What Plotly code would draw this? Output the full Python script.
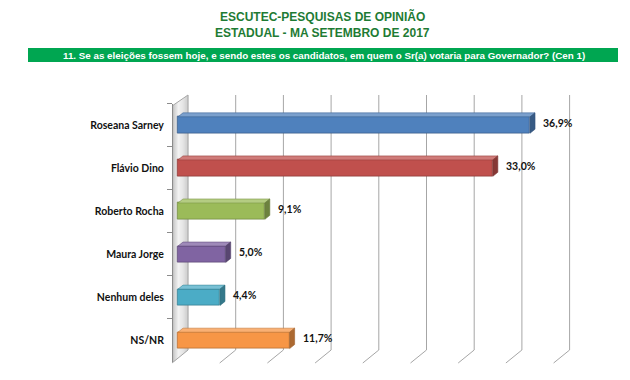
import plotly.graph_objects as go

# ---------------- data ----------------
categories = ["Roseana Sarney", "Flávio Dino", "Roberto Rocha", "Maura Jorge", "Nenhum deles", "NS/NR"]
values = [36.9, 33.0, 9.1, 5.0, 4.4, 11.7]
value_labels = ["36,9%", "33,0%", "9,1%", "5,0%", "4,4%", "11,7%"]
grid_ticks = [0, 5, 10, 15, 20, 25, 30, 35, 40]
bar_colors = ["#4F81BD", "#C0504D", "#9BBB59", "#8064A2", "#4BACC6", "#F79646"]
title_lines = ["ESCUTEC-PESQUISAS DE OPINIÃO", "ESTADUAL - MA SETEMBRO DE 2017"]
question = "11. Se as eleições fossem hoje, e sendo estes os candidatos, em quem o Sr(a) votaria para Governador? (Cen 1)"

# ---------------- layout constants (pixels) ----------------
W, H = 630, 380
X0_PX = 178.0          # pixel of value 0 on the front plane
PX_PER_UNIT = 9.54
X_MIN, X_MAX = -1.5, 42
Y_TOP_PX, Y_BOT_PX = 103.5, 361.9
ROW_PX = (Y_BOT_PX - Y_TOP_PX) / len(categories)
BAR_W = 0.38
DEPTH_DX, DEPTH_DY = 5, 4      # bar 3D depth in px
WALL_FRONT_DX, WALL_BACK_DX = -6, 10   # relative to value 0
FRONT_TOP, FRONT_BOT = 106, 363
BACK_TOP, BACK_BOT = 95, 350


def py(p):
    return 1 - p / H


def shade(hexc, f):
    r, g, b = int(hexc[1:3], 16), int(hexc[3:5], 16), int(hexc[5:7], 16)
    if f >= 0:
        r, g, b = [int(c + (255 - c) * f) for c in (r, g, b)]
    else:
        r, g, b = [int(c * (1 + f)) for c in (r, g, b)]
    return "#%02x%02x%02x" % (r, g, b)


fig = go.Figure()
fig.add_trace(go.Bar(
    orientation="h", x=values, y=categories, width=BAR_W,
    marker=dict(color=bar_colors, line=dict(color=[shade(c, -0.25) for c in bar_colors], width=0.8)),
    hoverinfo="skip",
))

shapes = []
# side wall (gradient strips)
n = 14
wall_cols = []
for i in range(n):
    t = (i + 0.5) / n
    if t < 0.4:
        g = int(175 + (245 - 175) * (t / 0.4))
    else:
        g = int(245 - (245 - 205) * ((t - 0.4) / 0.6))
    wall_cols.append("#%02x%02x%02x" % (g, g, g))
for i in range(n):
    t0, t1 = i / n, (i + 1) / n
    xa = WALL_FRONT_DX + (WALL_BACK_DX - WALL_FRONT_DX) * t0
    xb = WALL_FRONT_DX + (WALL_BACK_DX - WALL_FRONT_DX) * t1
    ta = FRONT_TOP + (BACK_TOP - FRONT_TOP) * t0
    tb = FRONT_TOP + (BACK_TOP - FRONT_TOP) * t1
    ba = FRONT_BOT + (BACK_BOT - FRONT_BOT) * t0
    bb = FRONT_BOT + (BACK_BOT - FRONT_BOT) * t1
    path = f"M{xa},{py(ba)} L{xa},{py(ta)} L{xb + 0.3},{py(tb)} L{xb + 0.3},{py(bb)} Z"
    shapes.append(dict(type="path", xref="x", yref="paper", xsizemode="pixel", xanchor=0,
                       path=path, fillcolor=wall_cols[i], line=dict(width=0), layer="below"))
# wall top edge
shapes.append(dict(type="line", xref="x", yref="paper", xsizemode="pixel", xanchor=0,
                   x0=WALL_FRONT_DX, x1=WALL_BACK_DX, y0=py(FRONT_TOP), y1=py(BACK_TOP),
                   line=dict(color="#a6a6a6", width=1), layer="below"))

# grid lines on back plane + floor diagonals
for v in grid_ticks:
    shapes.append(dict(type="line", xref="x", yref="paper", xsizemode="pixel", xanchor=v,
                       x0=WALL_BACK_DX, x1=WALL_BACK_DX, y0=py(BACK_BOT), y1=py(BACK_TOP),
                       line=dict(color="#a6a6a6", width=1), layer="below"))
    shapes.append(dict(type="line", xref="x", yref="paper", xsizemode="pixel", xanchor=v,
                       x0=WALL_BACK_DX, x1=WALL_FRONT_DX, y0=py(BACK_BOT), y1=py(FRONT_BOT),
                       line=dict(color="#a6a6a6", width=1), layer="below"))

# 3D faces of bars
dxu = DEPTH_DX / PX_PER_UNIT
dyu = DEPTH_DY / ROW_PX
for i, (v, c) in enumerate(zip(values, bar_colors)):
    top = i - BAR_W / 2
    bot = i + BAR_W / 2
    shapes.append(dict(type="path", xref="x", yref="y",
                       path=f"M0,{top} L{v},{top} L{v + dxu},{top - dyu} L{dxu},{top - dyu} Z",
                       fillcolor=shade(c, 0.25), line=dict(color=shade(c, -0.2), width=0.6)))
    shapes.append(dict(type="path", xref="x", yref="y",
                       path=f"M{v},{top} L{v + dxu},{top - dyu} L{v + dxu},{bot - dyu} L{v},{bot} Z",
                       fillcolor=shade(c, -0.3), line=dict(color=shade(c, -0.35), width=0.6)))

# banner
shapes.append(dict(type="rect", xref="paper", yref="paper", x0=28 / W, x1=618 / W,
                   y0=py(62), y1=py(48), fillcolor="#00A651", line=dict(width=0)))

annotations = []
for i, (v, lab) in enumerate(zip(values, value_labels)):
    annotations.append(dict(x=v, y=categories[i], xref="x", yref="y", text=lab, showarrow=False,
                            xanchor="left", yanchor="middle", xshift=11, yshift=2,
                            font=dict(family="Lato", size=10.5, color="#111111", weight="bold")))
for j, t in enumerate(title_lines):
    annotations.append(dict(x=322 / W, y=py(16 + 17 * j), xref="paper", yref="paper", text=t,
                            showarrow=False, xanchor="center", yanchor="middle",
                            font=dict(family="Liberation Sans", size=12, color="#1E7B34", weight="bold")))
annotations.append(dict(x=324 / W, y=py(55), xref="paper", yref="paper", text=question, showarrow=False,
                        xanchor="center", yanchor="middle",
                        font=dict(family="Liberation Sans", size=9.8, color="#ffffff", weight="bold")))

fig.update_layout(
    width=W, height=H, autosize=False,
    margin=dict(l=0, r=0, t=0, b=0),
    paper_bgcolor="#ffffff", plot_bgcolor="rgba(0,0,0,0)",
    showlegend=False, bargap=0,
    xaxis=dict(range=[X_MIN, X_MAX],
               domain=[(X0_PX + X_MIN * PX_PER_UNIT) / W, (X0_PX + X_MAX * PX_PER_UNIT) / W],
               showgrid=False, zeroline=False, showticklabels=False, showline=False, ticks=""),
    yaxis=dict(type="category", categoryorder="array", categoryarray=categories,
               range=[len(categories) - 0.5, -0.5],
               domain=[py(Y_BOT_PX), py(Y_TOP_PX)],
               anchor="free", position=(X0_PX + WALL_FRONT_DX) / W,
               showgrid=False, zeroline=False,
               showline=True, linecolor="#8c8c8c", linewidth=1,
               ticks="outside", tickson="boundaries", ticklen=5, tickcolor="#8c8c8c",
               ticklabelstandoff=6,
               tickfont=dict(family="Lato", size=10.5, color="#111111", weight="bold")),
    shapes=shapes, annotations=annotations,
)

fig.write_html("out.html", config={"displayModeBar": False},
               post_script="document.body.style.margin='0px';document.body.style.overflow='hidden';")
